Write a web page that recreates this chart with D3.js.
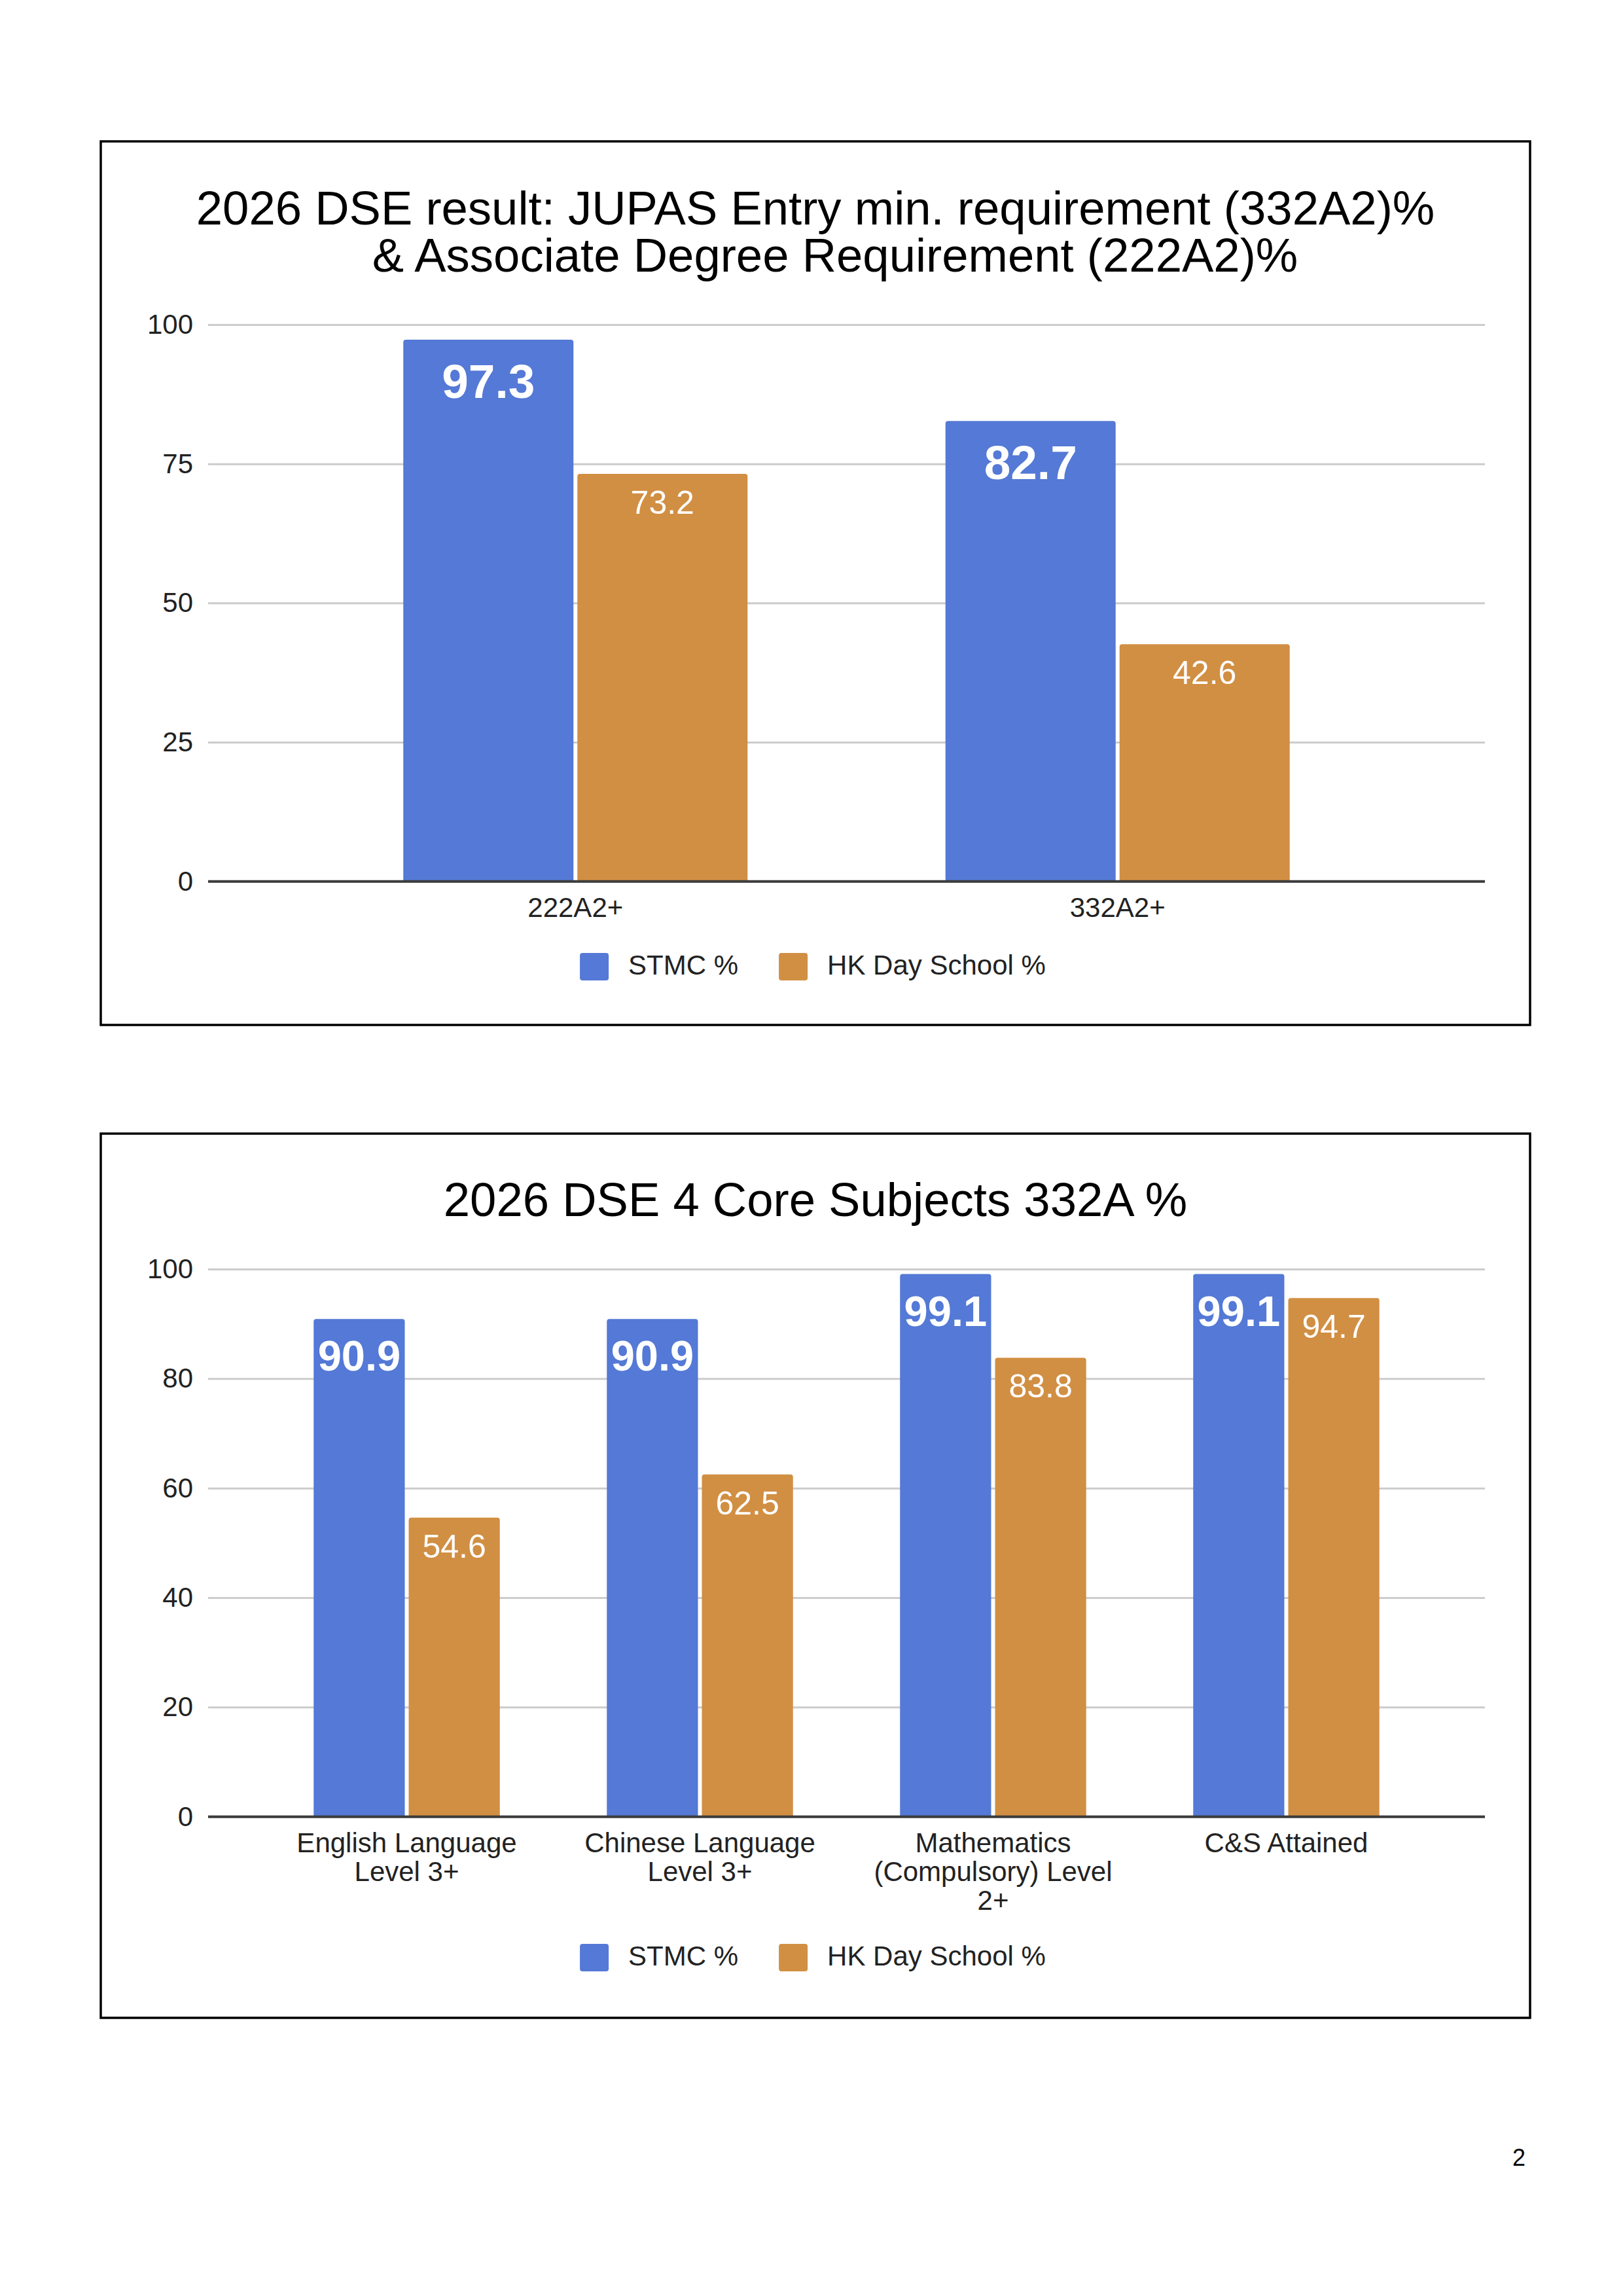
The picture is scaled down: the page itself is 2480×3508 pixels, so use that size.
<!DOCTYPE html>
<html>
<head>
<meta charset="utf-8">
<script src="https://cdn.jsdelivr.net/npm/d3@7"></script>
<style>
  body { margin: 0; background: #fff; }
  svg { display: block; }
  text { font-family: "Liberation Sans", Arial, sans-serif; }
</style>
</head>
<body>
<svg id="page" width="2480" height="3508"></svg>
<script>
// ---- data ----
var seriesNames = ["STMC %", "HK Day School %"];
var seriesColors = ["#5479d6", "#d18f43"];

var entryTitle = ["2026 DSE result: JUPAS Entry min. requirement (332A2)%",
                  "& Associate Degree Requirement (222A2)%"];
var entryCategories = ["222A2+", "332A2+"];
var entrySTMC = [97.3, 82.7];
var entryHK = [73.2, 42.6];
var entryTicks = [0, 25, 50, 75, 100];

var coreTitle = ["2026 DSE 4 Core Subjects 332A %"];
var coreCategories = ["English Language Level 3+", "Chinese Language Level 3+",
                      "Mathematics (Compulsory) Level 2+", "C&S Attained"];
var coreSTMC = [90.9, 90.9, 99.1, 99.1];
var coreHK = [54.6, 62.5, 83.8, 94.7];
var coreTicks = [0, 20, 40, 60, 80, 100];

var svg = d3.select("#page");

// bar with slightly rounded top corners
function barPath(x, y, w, h) {
	var r = Math.min(4, h);
	return "M" + x + "," + (y + h) +
		"L" + x + "," + (y + r) +
		"Q" + x + "," + y + " " + (x + r) + "," + y +
		"L" + (x + w - r) + "," + y +
		"Q" + (x + w) + "," + y + " " + (x + w) + "," + (y + r) +
		"L" + (x + w) + "," + (y + h) + "Z";
}

// wrap axis labels onto several lines
function wrap(textSel, width, lineHeight) {
	textSel.each(function() {
		var text = d3.select(this),
			words = text.text().split(/\s+/),
			y = +text.attr("y"),
			dy = text.attr("dy"),
			line = [],
			lineNo = 0,
			tspan = text.text(null).append("tspan").attr("x", 0).attr("y", y).attr("dy", dy);
		words.forEach(function(word) {
			line.push(word);
			tspan.text(line.join(" "));
			if (tspan.node().getComputedTextLength() > width && line.length > 1) {
				line.pop();
				tspan.text(line.join(" "));
				line = [word];
				lineNo++;
				tspan = text.append("tspan")
					.attr("x", 0)
					.attr("y", y + lineNo * lineHeight)
					.attr("dy", dy)
					.text(word);
			}
		});
	});
}

function drawChart(cfg) {
	var g = svg.append("g");

	// frame
	g.append("rect")
		.attr("x", cfg.box.x).attr("y", cfg.box.y)
		.attr("width", cfg.box.w).attr("height", cfg.box.h)
		.attr("fill", "none").attr("stroke", "#000").attr("stroke-width", 3.5);

	// title
	var cx = cfg.box.x + cfg.box.w / 2;
	g.selectAll("text.title").data(cfg.title).enter()
		.append("text").attr("class", "title")
		.attr("x", function(d, i) { return cx + (cfg.titleShift[i] || 0); })
		.attr("y", function(d, i) { return cfg.titleY + i * 72; })
		.attr("text-anchor", "middle")
		.attr("font-size", 72.5)
		.attr("fill", "#000")
		.text(function(d) { return d; });

	var y = d3.scaleLinear().domain([0, 100]).range([cfg.plot.bottom, cfg.plot.top]);
	var x0 = d3.scaleBand().domain(cfg.categories)
		.range([cfg.plot.left, cfg.plot.right])
		.paddingInner(0.365).paddingOuter(0.36);
	var gap = 6;
	var x1 = d3.scaleBand().domain(seriesNames)
		.range([0, x0.bandwidth()])
		.paddingInner(gap / ((x0.bandwidth() + gap) / 2));

	var W = cfg.plot.right - cfg.plot.left;

	// gridlines + y labels
	var yAxis = g.append("g")
		.attr("transform", "translate(" + cfg.plot.left + ",0)")
		.call(d3.axisLeft(y).tickValues(cfg.ticks).tickSize(-W).tickPadding(23));
	yAxis.select(".domain").remove();
	yAxis.selectAll(".tick line").attr("stroke", "#cccccc").attr("stroke-width", 3);
	yAxis.selectAll(".tick text")
		.attr("font-size", 42)
		.attr("font-family", "Liberation Sans, Arial, sans-serif")
		.attr("fill", "#222");

	// bars
	var rows = cfg.categories.map(function(c, i) {
		return { cat: c, values: [cfg.stmc[i], cfg.hk[i]] };
	});
	var groups = g.selectAll("g.grp").data(rows).enter()
		.append("g").attr("class", "grp")
		.attr("transform", function(d) { return "translate(" + x0(d.cat) + ",0)"; });

	var bars = groups.selectAll("g.bar")
		.data(function(d) {
			return d.values.map(function(v, k) { return { name: seriesNames[k], k: k, value: v }; });
		})
		.enter().append("g").attr("class", "bar");

	bars.append("path")
		.attr("d", function(d) {
			return barPath(x1(d.name), y(d.value), x1.bandwidth(), y(0) - y(d.value));
		})
		.attr("fill", function(d) { return seriesColors[d.k]; });

	bars.append("text")
		.attr("x", function(d) { return x1(d.name) + x1.bandwidth() / 2; })
		.attr("y", function(d) {
			var fs = d.k === 0 ? cfg.boldSize : 50;
			return y(d.value) + 1.215 * fs;
		})
		.attr("text-anchor", "middle")
		.attr("font-family", "Roboto, sans-serif")
		.attr("font-weight", function(d) { return d.k === 0 ? 700 : 400; })
		.attr("font-size", function(d) { return d.k === 0 ? cfg.boldSize : 50; })
		.attr("fill", "#fff")
		.text(function(d) { return d.value.toFixed(1); });

	// baseline
	g.append("line")
		.attr("x1", cfg.plot.left).attr("x2", cfg.plot.right)
		.attr("y1", y(0)).attr("y2", y(0))
		.attr("stroke", "#3c3c3c").attr("stroke-width", 4);

	// category labels
	var xAxis = g.append("g")
		.attr("transform", "translate(0," + y(0) + ")")
		.call(d3.axisBottom(x0).tickSize(0).tickPadding(24));
	xAxis.select(".domain").remove();
	xAxis.selectAll(".tick text")
		.attr("font-size", 42)
		.attr("font-family", "Liberation Sans, Arial, sans-serif")
		.attr("fill", "#222")
		.call(wrap, 400, 44);

	// legend
	var legend = g.append("g");
	var lx = 0;
	seriesNames.forEach(function(name, k) {
		var item = legend.append("g").attr("transform", "translate(" + lx + ",0)");
		item.append("rect")
			.attr("x", 0).attr("y", 0).attr("width", 44).attr("height", 42)
			.attr("rx", 4).attr("fill", seriesColors[k]);
		var t = item.append("text")
			.attr("x", 74).attr("y", 33)
			.attr("font-size", 42).attr("fill", "#222")
			.text(name);
		lx += 74 + t.node().getComputedTextLength() + 62;
	});
	var legW = lx - 62;
	legend.attr("transform", "translate(" + (cx - 4 - legW / 2) + "," + cfg.legendY + ")");
}

drawChart({
	box: { x: 154, y: 216, w: 2184, h: 1350 },
	title: entryTitle,
	titleShift: [0, 30],
	titleY: 343,
	plot: { left: 318, right: 2269, top: 496, bottom: 1346.7 },
	categories: entryCategories,
	stmc: entrySTMC,
	hk: entryHK,
	ticks: entryTicks,
	boldSize: 73,
	legendY: 1456
});

drawChart({
	box: { x: 154, y: 1732, w: 2184, h: 1351 },
	title: coreTitle,
	titleShift: [0],
	titleY: 1858,
	plot: { left: 318, right: 2269, top: 1939, bottom: 2775.7 },
	categories: coreCategories,
	stmc: coreSTMC,
	hk: coreHK,
	ticks: coreTicks,
	boldSize: 65,
	legendY: 2970
});

// page number
svg.append("text")
	.attr("x", 2311).attr("y", 3309)
	.attr("font-family", "Open Sans, Noto Sans, sans-serif")
	.attr("font-size", 36)
	.attr("fill", "#000")
	.text("2");
</script>
</body>
</html>
